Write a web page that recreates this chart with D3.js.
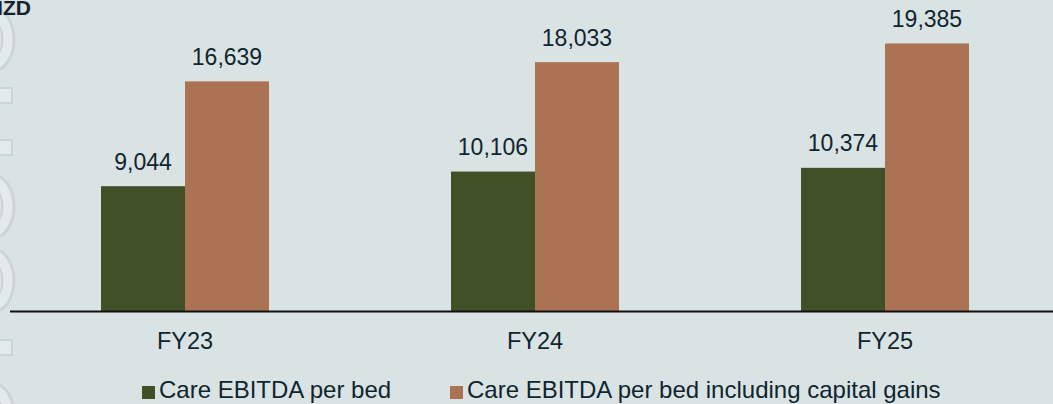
<!DOCTYPE html>
<html>
<head>
<meta charset="utf-8">
<script src="https://cdn.jsdelivr.net/npm/d3@7/dist/d3.min.js"></script>
<style>
  html, body { margin: 0; padding: 0; background: #dae3e3; }
  svg { display: block; font-family: Arial, "Liberation Sans", sans-serif; }
</style>
</head>
<body>
<svg id="chart" width="1053" height="404"></svg>
<script>
const categories = ["FY23", "FY24", "FY25"];
const seriesNames = ["Care EBITDA per bed", "Care EBITDA per bed including capital gains"];
const ebitdaPerBed = [9044, 10106, 10374];
const ebitdaInclGains = [16639, 18033, 19385];
const unitLabel = "NZD";

const colors = ["#425028", "#ac7254"];
const textColor = "#10252f";

const svg = d3.select("#chart");
const W = 1053, H = 404;

svg.append("rect").attr("width", W).attr("height", H).attr("fill", "#dae3e3");

// decorative watermark on the left edge
const deco = svg.append("g");
[39.5, 206.5, 280.5, 415].forEach(cy => {
  deco.append("ellipse").attr("cx", -6).attr("cy", cy).attr("rx", 20).attr("ry", 31)
    .attr("fill", "#e4eaea").attr("stroke", "#ccd4d4").attr("stroke-width", 3);
  deco.append("ellipse").attr("cx", -6).attr("cy", cy).attr("rx", 8.5).attr("ry", 17)
    .attr("fill", "#dae3e3").attr("stroke", "#ccd4d4").attr("stroke-width", 2);
});
[88, 140, 340].forEach(y => {
  deco.append("rect").attr("x", -10).attr("y", y).attr("width", 22).attr("height", 15)
    .attr("fill", "#e4eaea").attr("stroke", "#ccd4d4").attr("stroke-width", 2);
});

const x0 = d3.scaleBand().domain(categories).range([10, 1060]).paddingInner(0.52).paddingOuter(0.26);
const x1 = d3.scaleBand().domain([0, 1]).range([0, x0.bandwidth()]);
const y = d3.scaleLinear().domain([0, 20000]).range([311, 35]);

const data = categories.map((c, i) => ({ cat: c, vals: [ebitdaPerBed[i], ebitdaInclGains[i]] }));

const groups = svg.append("g").selectAll("g").data(data).join("g")
  .attr("transform", d => `translate(${x0(d.cat)},0)`);

groups.selectAll("rect").data(d => d.vals.map((v, k) => ({ v, k }))).join("rect")
  .attr("x", d => x1(d.k))
  .attr("y", d => y(d.v))
  .attr("width", x1.bandwidth())
  .attr("height", d => y(0) - y(d.v))
  .attr("fill", d => colors[d.k]);

groups.selectAll("text.val").data(d => d.vals.map((v, k) => ({ v, k }))).join("text")
  .attr("class", "val")
  .attr("x", d => x1(d.k) + x1.bandwidth() / 2)
  .attr("y", d => y(d.v) - 16.5)
  .attr("text-anchor", "middle")
  .attr("font-size", 23)
  .attr("fill", textColor)
  .text(d => d3.format(",")(d.v));

// x axis
const xAxis = svg.append("g").attr("transform", `translate(0,${y(0) + 0.5})`)
  .call(d3.axisBottom(x0).tickSize(0).tickPadding(0));
xAxis.select(".domain").attr("d", "M10,0H1053").attr("stroke", "#111").attr("stroke-width", 2);
xAxis.selectAll(".tick text")
  .attr("dy", null).attr("y", 37)
  .attr("font-size", 23.5).attr("font-family", "Arial, 'Liberation Sans', sans-serif")
  .attr("fill", textColor);

// unit label (left part runs off the edge, as in the source)
svg.append("text").attr("x", 31).attr("y", 15).attr("text-anchor", "end")
  .attr("font-size", 21).attr("font-weight", "bold").attr("fill", "#13222c").text(unitLabel);

// legend
const legendX = [142, 450];
const legend = svg.append("g").selectAll("g").data(seriesNames).join("g")
  .attr("transform", (d, i) => `translate(${legendX[i]},0)`);
legend.append("rect").attr("x", 0).attr("y", 386).attr("width", 13).attr("height", 13)
  .attr("fill", (d, i) => colors[i]);
legend.append("text").attr("x", 17).attr("y", 398).attr("font-size", 24)
  .attr("fill", textColor).text(d => d);
</script>
</body>
</html>
